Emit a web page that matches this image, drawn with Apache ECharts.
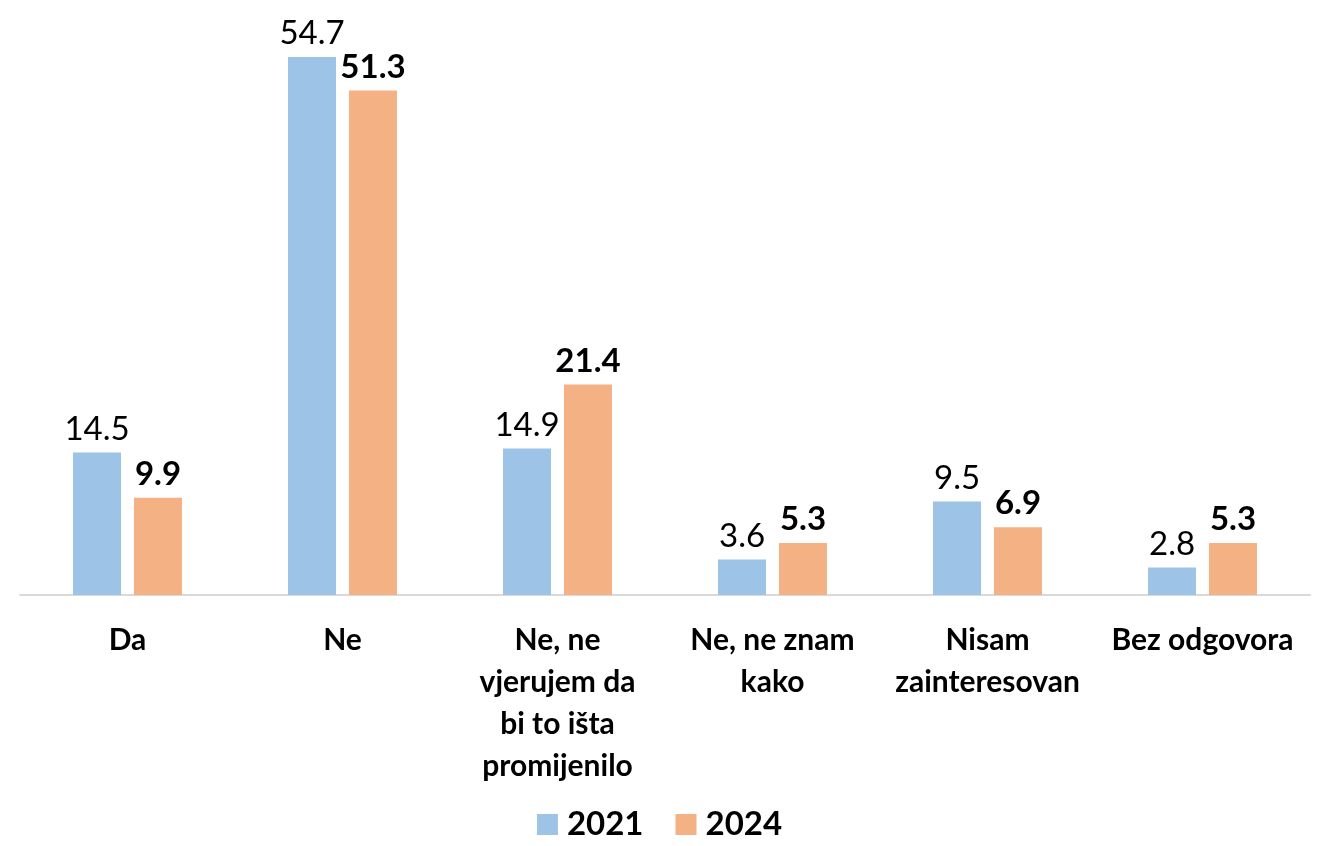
<!DOCTYPE html>
<html>
<head>
<meta charset="utf-8">
<script src="https://cdn.jsdelivr.net/npm/echarts@6/dist/echarts.min.js"></script>
<style>
  html, body { margin: 0; padding: 0; background: #fff; }
  #chart { width: 1319px; height: 846px; }
</style>
</head>
<body>
<div id="chart"></div>
<script>
// categories (line breaks as in the original)
const categories = [
  'Da',
  'Ne',
  'Ne, ne\nvjerujem da\nbi to išta\npromijenilo',
  'Ne, ne znam\nkako',
  'Nisam\nzainteresovan',
  'Bez odgovora'
];
const years = ['2021', '2024'];
const values2021 = [14.5, 54.7, 14.9, 3.6, 9.5, 2.8];
const values2024 = [9.9, 51.3, 21.4, 5.3, 6.9, 5.3];

const font = 'Lato, "Open Sans", sans-serif';

let myChart = echarts.init(document.getElementById('chart'));
myChart.setOption({
  animation: false,
  textStyle: { fontFamily: font, color: '#000' },
  grid: { left: 20, right: 9, top: 5, bottom: 251 },
  legend: {
    bottom: 0,
    left: 'center',
    itemWidth: 21,
    itemHeight: 21,
    itemGap: 32,
    icon: 'rect',
    textStyle: { fontFamily: font, fontSize: 33, fontWeight: 'bold', color: '#000', padding: [0, 0, 0, 4] },
    data: years
  },
  xAxis: {
    type: 'category',
    data: categories,
    axisLine: { lineStyle: { color: '#d9d9d9', width: 2 } },
    axisTick: { show: false },
    axisLabel: {
      interval: 0,
      margin: 24,
      fontFamily: font,
      fontSize: 30,
      fontWeight: 'bold',
      lineHeight: 42,
      color: '#000'
    }
  },
  yAxis: {
    type: 'value',
    min: 0,
    max: 60,
    show: false
  },
  series: [
    {
      name: years[0],
      type: 'bar',
      data: values2021,
      barWidth: 48,
      barGap: '27%',
      itemStyle: { color: '#9dc3e6' },
      label: {
        show: true,
        position: 'top',
        distance: 7,
        fontFamily: font,
        fontSize: 33,
        color: '#000',
        formatter: p => p.value.toFixed(1)
      }
    },
    {
      name: years[1],
      type: 'bar',
      data: values2024,
      barWidth: 48,
      itemStyle: { color: '#f4b183' },
      label: {
        show: true,
        position: 'top',
        distance: 7,
        fontFamily: font,
        fontSize: 33,
        fontWeight: 'bold',
        color: '#000',
        formatter: p => p.value.toFixed(1)
      }
    }
  ]
});
</script>
</body>
</html>
